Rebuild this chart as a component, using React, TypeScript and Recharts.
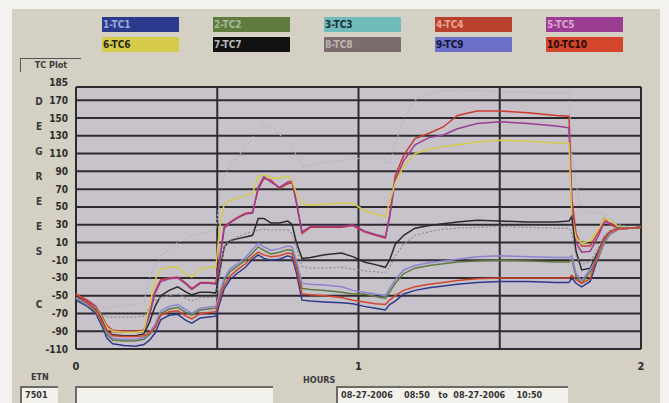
import React from 'react';
import { LineChart, Line, XAxis, YAxis, CartesianGrid, ReferenceLine } from 'recharts';

// time axis, hours since 08:50
const hours = [0, 0.04, 0.07, 0.09, 0.11, 0.13, 0.17, 0.21, 0.24, 0.26, 0.28, 0.3, 0.33, 0.36, 0.39, 0.41, 0.44, 0.47, 0.495, 0.51,
  0.525, 0.545, 0.57, 0.6, 0.625, 0.645, 0.665, 0.69, 0.72, 0.75, 0.765, 0.78, 0.8, 0.83, 0.88, 0.94, 0.98, 1.02, 1.06, 1.095,
  1.11, 1.13, 1.16, 1.2, 1.25, 1.3, 1.35, 1.42, 1.5, 1.6, 1.7, 1.745, 1.755, 1.77, 1.79, 1.82, 1.85, 1.87, 1.89, 1.92, 1.96, 2.0];

const tc1 = [-55, -62, -70, -83, -98, -104, -106, -107, -105, -100, -92, -77, -72, -71, -78, -81, -75, -74, -73, -57,
  -42, -32, -25, -18, -9, -4, -8, -10, -9, -5, -7, -24, -55, -56, -57, -58, -59, -62, -64, -66,
  -60, -56, -48, -44, -41, -39, -37, -35, -34, -34, -35, -35, -30, -36, -40, -34, -5, 12, 21, 25, 26, 27];
const tc2 = [-53, -61, -68, -80, -94, -100, -101, -101, -99, -94, -85, -70, -65, -63, -69, -72, -66, -65, -64, -48,
  -33, -23, -17, -10, -2, 5, 1, -3, -1, 2, 1, -14, -42, -43, -44, -46, -48, -48, -51, -53,
  -46, -36, -25, -19, -16, -14, -12, -11, -10, -11, -12, -12, -9, -28, -36, -23, -7, 10, 19, 25, 26, 27];
const tc3 = [-52, -56, -60, -63, -64, -62, -61, -60, -58, -30, -15, -5, 2, 10, 15, 17, 20, 22, 25, 60,
  85, 95, 105, 118, 128, 136, 142, 140, 132, 122, 118, 108, 95, 97, 100, 102, 104, 105, 105, 104,
  98, 120, 150, 170, 178, 181, 182, 181, 180, 179, 178, 178, 110, 75, 48, 43, 43, 44, 38, 30, 27, 27];
const tc4 = [-48, -55, -62, -72, -84, -89, -90, -90, -89, -70, -45, -32, -30, -29, -36, -42, -35, -35, -36, -5,
  28, 33, 38, 43, 44, 70, 82, 80, 71, 76, 77, 55, 20, 27, 27, 27, 29, 22, 18, 15,
  40, 85, 108, 127, 133, 140, 153, 158, 158, 156, 153, 152, 60, 20, 6, 6, 22, 37, 30, 26, 26, 27];
const tc5 = [-49, -56, -63, -73, -85, -90, -91, -91, -90, -72, -47, -34, -31, -30, -37, -43, -36, -36, -37, -7,
  26, 32, 37, 42, 43, 72, 84, 78, 72, 78, 79, 56, 22, 28, 28, 28, 30, 23, 19, 16,
  38, 80, 102, 120, 128, 131, 138, 144, 146, 144, 141, 139, 50, 10, -1, 0, 18, 33, 32, 27, 26, 27];
const tc6 = [-52, -58, -64, -74, -86, -90, -91, -91, -90, -62, -32, -20, -18, -18, -26, -29, -20, -18, -18, 30,
  54, 57, 60, 63, 66, 84, 86, 83, 82, 85, 80, 65, 54, 52, 53, 54, 54, 46, 42, 39,
  55, 77, 96, 110, 115, 118, 120, 123, 125, 124, 122, 122, 40, 15, 9, 12, 25, 37, 35, 28, 26, 27];
const tc7 = [-50, -58, -65, -76, -90, -94, -95, -95, -93, -80, -62, -50, -44, -40, -46, -49, -46, -46, -47, -20,
  5, 12, 14, 16, 18, 37, 37, 32, 32, 34, 30, 10, -8, -7, -4, -2, -6, -12, -15, -18,
  -10, 8, 18, 26, 29, 31, 33, 35, 34, 33, 33, 34, 39, 0, -21, -19, 1, 15, 22, 26, 26, 27];
const tc8 = [-53, -58, -64, -70, -74, -74, -74, -74, -73, -64, -56, -52, -50, -48, -53, -56, -52, -52, -52, -25,
  5, 12, 16, 20, 22, 24, 25, 24, 24, 24, 20, 5, -17, -19, -19, -18, -20, -22, -23, -24,
  -18, -5, 8, 18, 22, 25, 26, 27, 28, 27, 26, 26, 20, -5, -15, -12, 5, 18, 24, 27, 27, 27];
const tc9 = [-52, -60, -66, -78, -92, -98, -99, -99, -97, -92, -82, -67, -62, -60, -66, -70, -64, -63, -62, -45,
  -30, -20, -14, -7, 2, 9, 5, 1, 3, 6, 5, -10, -36, -37, -38, -40, -44, -46, -48, -50,
  -42, -32, -21, -16, -13, -11, -9, -6, -5, -6, -7, -7, -5, -25, -33, -20, -5, 12, 20, 25, 26, 27];
const tc10 = [-48, -58, -66, -78, -90, -95, -96, -96, -95, -92, -86, -72, -68, -67, -73, -76, -70, -69, -68, -52,
  -38, -28, -21, -14, -6, -1, -4, -6, -5, -2, -3, -18, -48, -49, -50, -52, -55, -57, -59, -60,
  -55, -50, -44, -40, -37, -35, -33, -31, -30, -30, -30, -30, -27, -32, -36, -31, 0, 14, 22, 25, 26, 27];

const yTicks = [185, 170, 150, 130, 110, 90, 70, 50, 30, 10, -10, -30, -50, -70, -90, -110];
const xTicks = [0, 1, 2];
const xGrid = [0, 0.5, 1, 1.5, 2];
const degreeLetters = ['D', 'E', 'G', 'R', 'E', 'E', 'S'];

const SERIES = [
  { key: 'tc1', label: '1-TC1', color: '#2c3a8e', text: '#9ea8dc', values: tc1 },
  { key: 'tc2', label: '2-TC2', color: '#5f7c3e', text: '#a8b898', values: tc2 },
  { key: 'tc3', label: '3-TC3', color: '#70bcbc', text: '#1e2e3a', values: tc3, dash: '2 2', stroke: '#b2b4c2', width: 1.2 },
  { key: 'tc4', label: '4-TC4', color: '#b8402c', text: '#e8a890', values: tc4, stroke: '#cc3a2c' },
  { key: 'tc5', label: '5-TC5', color: '#9c3c92', text: '#d8a8d4', values: tc5 },
  { key: 'tc6', label: '6-TC6', color: '#d6ca4a', text: '#2a2a10', values: tc6 },
  { key: 'tc7', label: '7-TC7', color: '#121212', text: '#b8b8b8', values: tc7, stroke: '#2a2a2a' },
  { key: 'tc8', label: '8-TC8', color: '#7c6c6c', text: '#c0b4b0', values: tc8, dash: '2 2', stroke: '#908a90', width: 1.2 },
  { key: 'tc9', label: '9-TC9', color: '#6c70c8', text: '#14163a', values: tc9, stroke: '#8c84d0' },
  { key: 'tc10', label: '10-TC10', color: '#d4462c', text: '#2a0c08', values: tc10 },
];

const data = hours.map((h, i) => {
  const row: Record<string, number> = { h };
  SERIES.forEach(s => { row[s.key] = s.values[i]; });
  return row;
});

const FONT = "'Liberation Sans Narrow', 'DejaVu Sans Condensed', 'Liberation Sans', sans-serif";
const GRID = '#2e2b30';

const YTick = (props: any) => {
  const { x, y, payload } = props;
  const dy = payload.value === 185 ? -5 : 0;
  return (
    <text x={x} y={y + dy} dy="0.35em" textAnchor="end" fill="#2c2c2c" fontSize={10} fontWeight="bold" fontFamily={FONT}>
      {payload.value}
    </text>
  );
};

const inputBox: React.CSSProperties = {
  position: 'absolute',
  top: 386,
  height: 17,
  background: '#f3f1ec',
  borderTop: '2px solid #6a6a66',
  borderLeft: '2px solid #6a6a66',
  boxSizing: 'border-box',
  fontSize: 9,
  fontWeight: 'bold',
  fontFamily: FONT,
  color: '#333',
  lineHeight: '14px',
  paddingLeft: 3,
  whiteSpace: 'pre',
};

const label: React.CSSProperties = {
  position: 'absolute',
  fontSize: 10,
  fontWeight: 'bold',
  fontFamily: FONT,
  color: '#3a3a3a',
};

export default function App() {
  return (
    <div style={{ position: 'absolute', left: 0, top: 0, width: 669, height: 403, background: '#f3f2ef', overflow: 'hidden' }}>
      <div style={{ position: 'absolute', left: 12, top: 9, width: 648, height: 394, background: '#d4d0c3' }} />

      {/* legend swatches */}
      {SERIES.map((s, i) => (
        <div
          key={s.key}
          style={{
            position: 'absolute',
            left: 102 + (i % 5) * 111,
            top: i < 5 ? 17 : 37,
            width: 77,
            height: 15,
            background: s.color,
            color: s.text,
            fontSize: 10,
            fontWeight: 'bold',
            fontFamily: FONT,
            lineHeight: '15px',
            paddingLeft: 1,
            boxSizing: 'border-box',
          }}
        >
          {s.label}
        </div>
      ))}

      <div style={{ ...label, left: 20, top: 58, width: 60, height: 13, borderTop: '1px solid #555', borderLeft: '1px solid #555', fontSize: 9, textAlign: 'center', lineHeight: '13px' }}>
        TC Plot
      </div>

      {degreeLetters.map((c, i) => (
        <div key={i} style={{ ...label, left: 34, top: 96 + i * 25, width: 10, textAlign: 'center' }}>{c}</div>
      ))}
      <div style={{ ...label, left: 34, top: 299, width: 10, textAlign: 'center' }}>C</div>

      <div style={{ position: 'absolute', left: 0, top: 0 }}>
        <LineChart width={669} height={403} data={data} margin={{ top: 87, right: 28, bottom: 24, left: 26 }}>
          <CartesianGrid vertical={false} stroke={GRID} strokeWidth={2} fill="#c8c3cb" fillOpacity={1} />
          {xGrid.map(x => (
            <ReferenceLine key={x} x={x} stroke={GRID} strokeWidth={2} />
          ))}
          <XAxis
            type="number"
            dataKey="h"
            domain={[0, 2]}
            ticks={xTicks}
            axisLine={false}
            tickLine={false}
            tickMargin={7}
            height={30}
            tick={{ fill: '#2c2c2c', fontSize: 11, fontWeight: 'bold', fontFamily: FONT }}
          />
          <YAxis
            type="number"
            domain={[-110, 185]}
            ticks={yTicks}
            interval={0}
            width={50}
            axisLine={false}
            tickLine={false}
            tick={<YTick />}
          />
          {SERIES.map(s => (
            <Line
              key={s.key}
              type="linear"
              dataKey={s.key}
              stroke={s.stroke || s.color}
              strokeWidth={s.width || 1.5}
              strokeDasharray={s.dash}
              dot={false}
              isAnimationActive={false}
            />
          ))}
        </LineChart>
      </div>

      <div style={{ ...label, left: 31, top: 372, fontSize: 9 }}>ETN</div>
      <div style={{ ...inputBox, left: 20, width: 38 }}>7501</div>
      <div style={{ ...inputBox, left: 75, width: 198 }} />
      <div style={{ ...label, left: 303, top: 375, fontSize: 9 }}>HOURS</div>
      <div style={{ ...inputBox, left: 336, width: 232 }}>{'08-27-2006    08:50   to  08-27-2006    10:50'}</div>
    </div>
  );
}
